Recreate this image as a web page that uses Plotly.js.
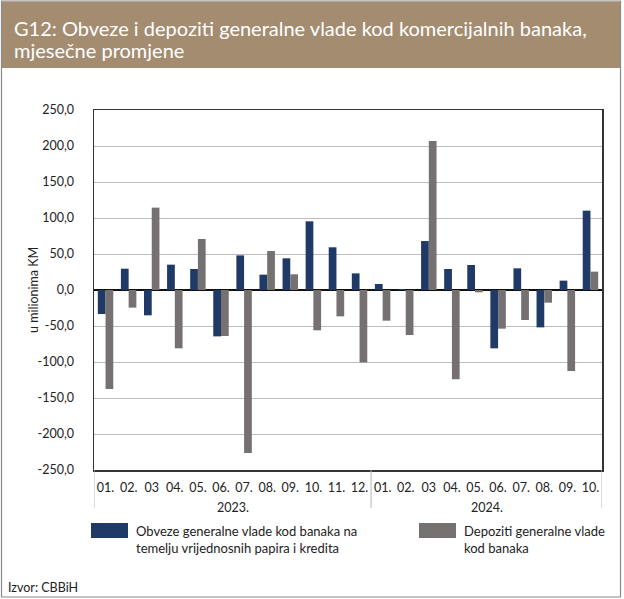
<!DOCTYPE html>
<html>
<head>
<meta charset="utf-8">
<script src="https://cdn.plot.ly/plotly-3.0.1.min.js"></script>
<style>html,body{margin:0;padding:0;background:#fff;}#chart{width:624px;height:599px;}</style>
</head>
<body>
<div id="chart"></div>
<script>
// ---- data ----
var years = ['2023.', '2024.'];
var months2023 = ['01.', '02.', '03', '04.', '05.', '06.', '07.', '08.', '09.', '10.', '11.', '12.'];
var months2024 = ['01.', '02.', '03', '04.', '05.', '06.', '07.', '08.', '09.', '10.'];
var obveze = [-33.3, 29.6, -35.2, 35.2, 29.2, -64.4, 48.1, 21.3, 44.0, 95.4, 59.3, 23.1,
              8.3, 1.4, 68.0, 29.2, 34.7, -81.0, 30.1, -51.9, 13.0, 110.2];
var depoziti = [-137.5, -24.5, 114.4, -81.0, 70.8, -63.9, -226.4, 54.2, 21.8, -56.0, -36.6, -100.5,
                -42.6, -62.5, 207.0, -124.0, -3.2, -53.7, -41.7, -17.6, -112.5, 25.5];
var yTickVals = [-250, -200, -150, -100, -50, 0, 50, 100, 150, 200, 250];
var yTickText = ['-250,0', '-200,0', '-150,0', '-100,0', '-50,0', '0,0', '50,0', '100,0', '150,0', '200,0', '250,0'];
var seriesNames = ['Obveze generalne vlade kod banaka na<br>temelju vrijednosnih papira i kredita',
                   'Depoziti generalne vlade<br>kod banaka'];
var titleLines = ['G12: Obveze i depoziti generalne vlade kod komercijalnih banaka,', 'mjesečne promjene'];
var yTitle = 'u milionima KM';
var sourceText = 'Izvor: CBBiH';

// ---- build ----
var monthGroups = [months2023, months2024];
var xKeys = [], xLabels = [];
monthGroups.forEach(function (ms, g) {
  ms.forEach(function (m) { xKeys.push(years[g] + '|' + m); xLabels.push(m); });
});
var bounds = [-0.5], centres = [], start = 0;
monthGroups.forEach(function (ms) {
  centres.push(start + (ms.length - 1) / 2);
  start += ms.length;
  bounds.push(start - 0.5);
});

var FONT = 'Lato, "Open Sans", sans-serif';
var BLUE = '#1f3a66';
var GRAY = '#767171';
var TXT = '#222222';

var traces = [
  { type: 'bar', x: xKeys, y: obveze, marker: { color: BLUE }, showlegend: false },
  { type: 'bar', x: xKeys, y: depoziti, marker: { color: GRAY }, showlegend: false }
];

function px(v) { return (v - 94) / 508; }
function py(v) { return (470 - v) / 360; }

var shapes = [
  { type: 'rect', xref: 'paper', yref: 'paper', x0: px(1.5), x1: px(620.5), y0: py(597), y1: py(1),
    line: { color: '#8a8a8a', width: 1.2 }, fillcolor: 'rgba(0,0,0,0)', layer: 'below' },
  { type: 'rect', xref: 'paper', yref: 'paper', x0: px(2), x1: px(620), y0: py(68), y1: py(1.5),
    line: { width: 0 }, fillcolor: '#a48c71', layer: 'below' },
  { type: 'rect', xref: 'paper', yref: 'paper', x0: px(91), x1: px(128), y0: py(538), y1: py(523),
    line: { width: 0 }, fillcolor: BLUE },
  { type: 'rect', xref: 'paper', yref: 'paper', x0: px(419), x1: px(456), y0: py(538), y1: py(523),
    line: { width: 0 }, fillcolor: GRAY }
];
bounds.forEach(function (b) {
  shapes.push({ type: 'line', xref: 'x', yref: 'paper', x0: b, x1: b, y0: 0, y1: py(508),
    line: { color: '#b5b5b5', width: 1 } });
});

var annotations = [
  { xref: 'paper', yref: 'paper', x: px(12), y: py(28), xanchor: 'left', yanchor: 'middle', align: 'left',
    text: titleLines[0], showarrow: false, font: { family: FONT, size: 20, color: '#ffffff' } },
  { xref: 'paper', yref: 'paper', x: px(12), y: py(50), xanchor: 'left', yanchor: 'middle', align: 'left',
    text: titleLines[1], showarrow: false, font: { family: FONT, size: 20, color: '#ffffff' } },
  { xref: 'paper', yref: 'paper', x: px(33), y: 0.5, textangle: -90, text: yTitle, showarrow: false,
    xanchor: 'center', yanchor: 'middle', font: { family: FONT, size: 12.5, color: TXT } },
  { xref: 'paper', yref: 'paper', x: px(134), y: py(539), xanchor: 'left', yanchor: 'middle', align: 'left',
    text: seriesNames[0], showarrow: false, font: { family: FONT, size: 13, color: TXT } },
  { xref: 'paper', yref: 'paper', x: px(462), y: py(539), xanchor: 'left', yanchor: 'middle', align: 'left',
    text: seriesNames[1], showarrow: false, font: { family: FONT, size: 13, color: TXT } },
  { xref: 'paper', yref: 'paper', x: px(6), y: py(587), xanchor: 'left', yanchor: 'middle', align: 'left',
    text: sourceText, showarrow: false, font: { family: FONT, size: 12.5, color: TXT } }
];
years.forEach(function (yr, g) {
  annotations.push({ xref: 'x', yref: 'paper', x: centres[g], y: py(507), xanchor: 'center', yanchor: 'middle',
    text: yr, showarrow: false, font: { family: FONT, size: 12.5, color: TXT } });
});

var layout = {
  width: 624, height: 599,
  margin: { l: 94, r: 22, t: 110, b: 129 },
  paper_bgcolor: '#ffffff', plot_bgcolor: '#ffffff',
  font: { family: FONT, size: 12, color: TXT },
  barmode: 'group', bargap: 0.33, bargroupgap: 0,
  xaxis: {
    type: 'category', tickangle: 0, tickvals: xKeys, ticktext: xLabels,
    range: [-0.5, xKeys.length - 0.5],
    showline: true, mirror: true, linecolor: '#333', linewidth: 1.5,
    showgrid: false, ticks: '', ticklabelstandoff: 5,
    tickfont: { family: FONT, size: 12.5, color: TXT }
  },
  yaxis: {
    range: [-250, 250], tickvals: yTickVals, ticktext: yTickText,
    showline: true, mirror: true, linecolor: '#333', linewidth: 1.5,
    showgrid: true, gridcolor: '#bdbdbd', gridwidth: 1,
    zeroline: true, zerolinecolor: '#111', zerolinewidth: 1.3,
    ticks: '', ticklabelstandoff: 16,
    tickfont: { family: FONT, size: 12.5, color: TXT }
  },
  shapes: shapes,
  annotations: annotations
};

Plotly.newPlot('chart', traces, layout, { displayModeBar: false, staticPlot: true });
</script>
</body>
</html>
